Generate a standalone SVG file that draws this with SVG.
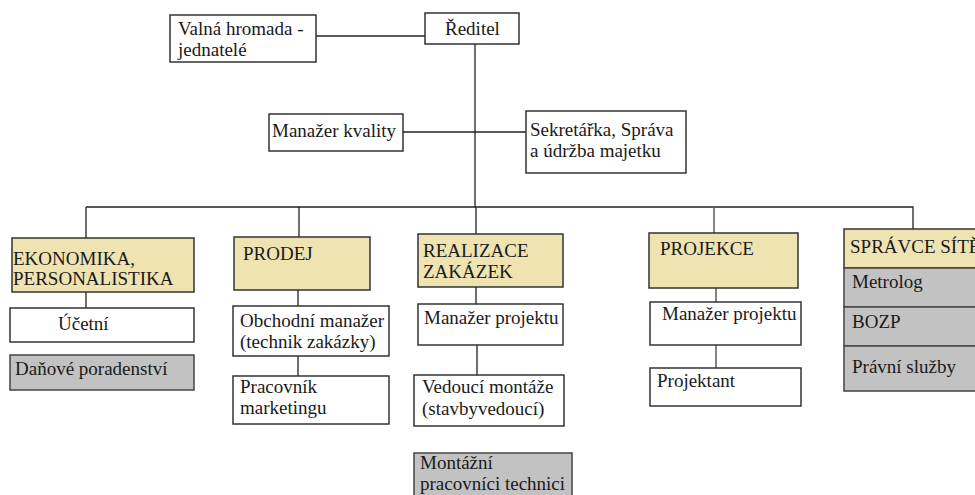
<svg xmlns="http://www.w3.org/2000/svg" width="975" height="495" viewBox="0 0 975 495">
<style>
text{font-family:'Liberation Serif','Times New Roman','DejaVu Serif',serif;font-size:19px;fill:#1a1a1a}
.b{fill:#fff;stroke:#333;stroke-width:1.5}
.t{fill:#efe3b2;stroke:#333;stroke-width:1.5}
.g{fill:#c2c2c2;stroke:#444;stroke-width:1.5}
.c{fill:none;stroke:#222;stroke-width:1.3}
.cg{fill:none;stroke:#666;stroke-width:1.6}
</style>
<rect width="975" height="495" fill="#fff"/>
<g id="connectors">
<path class="c" d="M316 36H425M475 44V207M403 132H526M86 207H913V229M86 207V238M299 207V237M476 207V234M86 292V308M298 290V306M298 356V376M476 287V304M477 345V375"/>
<path class="cg" d="M714 207V233M716 288V302M716 345V368"/>
</g>
<g font-family="Liberation Serif, serif">
<g id="valna"><rect class="b" x="170" y="15" width="146" height="47"/><text x="178" y="35">Valná hromada -</text><text x="178" y="56">jednatelé</text></g>
<g id="reditel"><rect class="b" x="425" y="13" width="94" height="31"/><text x="445" y="35">Ředitel</text></g>
<g id="kvalita"><rect class="b" x="269" y="114" width="134" height="37"/><text x="272" y="137">Manažer kvality</text></g>
<g id="sekretarka"><rect class="b" x="526" y="111" width="160" height="62"/><text x="530" y="136">Sekretářka, Správa</text><text x="530" y="157">a údržba majetku</text></g>
<g id="ekonomika"><rect class="t" x="12" y="238" width="182" height="54"/><text x="13" y="265">EKONOMIKA,</text><text x="13" y="285">PERSONALISTIKA</text></g>
<g id="ucetni"><rect class="b" x="10" y="308" width="184" height="34"/><text x="58" y="330">Účetní</text></g>
<g id="danove"><rect class="g" x="10" y="355" width="184" height="35"/><text x="15" y="375">Daňové poradenství</text></g>
<g id="prodej"><rect class="t" x="234" y="237" width="136" height="53"/><text x="243" y="260">PRODEJ</text></g>
<g id="obchodni"><rect class="b" x="233" y="306" width="156" height="50"/><text x="240" y="327">Obchodní manažer</text><text x="240" y="348">(technik zakázky)</text></g>
<g id="pracovnik"><rect class="b" x="233" y="376" width="156" height="48"/><text x="240" y="393">Pracovník</text><text x="240" y="414">marketingu</text></g>
<g id="realizace"><rect class="t" x="418" y="234" width="145" height="53"/><text x="423" y="257">REALIZACE</text><text x="423" y="278">ZAKÁZEK</text></g>
<g id="manazer-r"><rect class="b" x="418" y="304" width="145" height="41"/><text x="424" y="324">Manažer projektu</text></g>
<g id="vedouci"><rect class="b" x="414" y="375" width="150" height="51"/><text x="422" y="393">Vedoucí montáže</text><text x="422" y="415">(stavbyvedoucí)</text></g>
<g id="montazni"><rect class="g" x="414" y="453" width="158" height="50"/><text x="420" y="469">Montážní</text><text x="420" y="490">pracovníci technici</text></g>
<g id="projekce"><rect class="t" x="649" y="233" width="149" height="55"/><text x="660" y="255">PROJEKCE</text></g>
<g id="manazer-p"><rect class="b" x="650" y="302" width="151" height="43"/><text x="662" y="320">Manažer projektu</text></g>
<g id="projektant"><rect class="b" x="650" y="368" width="151" height="38"/><text x="657" y="387">Projektant</text></g>
<g id="spravce">
<rect class="t" x="844" y="229" width="140" height="39"/><text x="850" y="253">SPRÁVCE SÍTĚ</text>
<rect class="g" x="844" y="268" width="140" height="39"/><text x="852" y="288">Metrolog</text>
<rect class="g" x="844" y="307" width="140" height="39"/><text x="852" y="328">BOZP</text>
<rect class="g" x="844" y="346" width="140" height="45"/><text x="852" y="373">Právní služby</text>
</g>
</g>
</svg>
